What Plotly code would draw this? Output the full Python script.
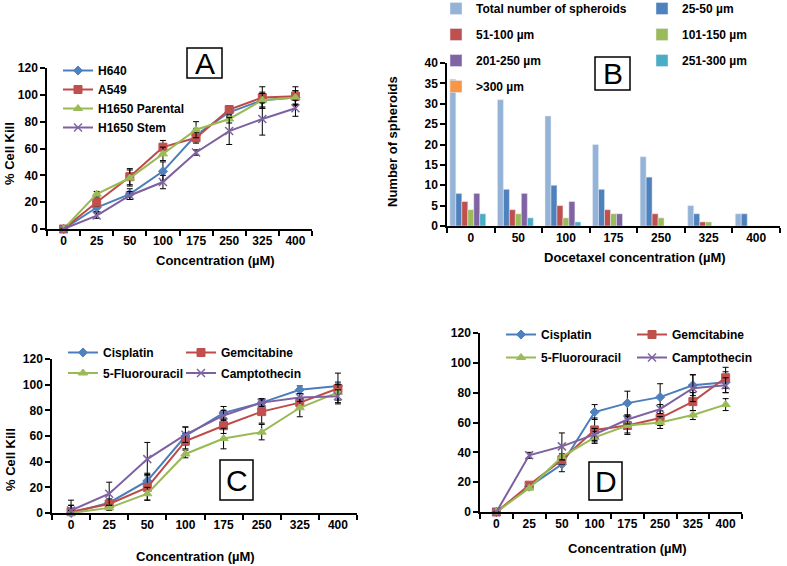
import plotly.graph_objects as go

W, H = 787, 566

# ---------------- data ----------------
conc = ["0", "25", "50", "100", "175", "250", "325", "400"]

# Panel A (% cell kill)
a_h640 = [0, 16, 26, 43, 70, 87, 96, 98]
a_a549 = [0, 20, 39, 61, 68, 89, 98, 99]
a_par = [0, 26, 38, 56, 74, 82, 96, 98]
a_stem = [0, 10, 25, 35, 57, 73, 82, 90]
a_h640_err = [0, 3, 4, 7, 5, 3, 6, 5]
a_a549_err = [0, 3, 6, 5, 4, 3, 8, 7]
a_par_err = [0, 2, 6, 5, 6, 3, 5, 5]
a_stem_err = [0, 2, 3, 5, 2, 10, 12, 6]

# Panel B (number of spheroids)
b_conc = ["0", "50", "100", "175", "250", "325", "400"]
b_total = [36, 31, 27, 20, 17, 5, 3]
b_25_50 = [8, 9, 10, 9, 12, 3, 3]
b_51_100 = [6, 4, 5, 4, 3, 1, 0]
b_101_150 = [4, 3, 2, 3, 2, 1, 0]
b_201_250 = [8, 8, 6, 3, 0, 0, 0]
b_251_300 = [3, 2, 1, 0, 0, 0, 0]
b_gt300 = [0, 0, 0, 0, 0, 0, 0]

# Panel C
c_cis = [0, 8, 25, 60, 78, 86, 96, 99]
c_gem = [1, 7, 20, 56, 68, 79, 86, 97]
c_fu = [0, 4, 15, 46, 58, 63, 82, 94]
c_cam = [2, 15, 42, 61, 76, 86, 90, 91]
c_cis_err = [6, 3, 6, 7, 5, 3, 3, 3]
c_gem_err = [5, 3, 10, 6, 6, 9, 4, 12]
c_fu_err = [2, 2, 5, 3, 8, 6, 7, 6]
c_cam_err = [8, 9, 13, 6, 4, 3, 3, 5]

# Panel D
d_cis = [0, 17, 32, 67, 73, 77, 85, 87]
d_gem = [0, 18, 35, 55, 58, 63, 74, 90]
d_fu = [0, 16, 37, 50, 58, 60, 65, 72]
d_cam = [0, 38, 44, 52, 62, 69, 83, 85]
d_cis_err = [0, 1, 5, 5, 8, 9, 7, 7]
d_gem_err = [0, 1, 3, 8, 6, 5, 6, 7]
d_fu_err = [0, 1, 2, 4, 5, 4, 3, 4]
d_cam_err = [0, 2, 9, 4, 3, 3, 9, 5]

# ---------------- styles ----------------
BLUE, BLUE_M = "#4A7EBB", "#4F81BD"
RED, RED_M = "#BE4B48", "#C0504D"
GREEN, GREEN_M = "#98B954", "#9BBB59"
PURPLE, PURPLE_M = "#7D60A0", "#8064A2"
FONT = "Liberation Sans, Arial, sans-serif"


def px(x):
    return x / W


def py(y):
    return 1 - y / H


def line_trace(x, y, err, name, color, mcolor, symbol, size, xa, ya, legend):
    lw = 1.5 if symbol == "x-thin" else 1
    mk = dict(symbol=symbol, size=size, color=mcolor, line=dict(color=mcolor, width=lw))
    return go.Scatter(
        x=x, y=y, name=name, mode="lines+markers",
        line=dict(color=color, width=2), marker=mk,
        error_y=dict(type="data", array=err, color="black", thickness=1, width=3),
        xaxis=xa, yaxis=ya, legend=legend, legendgroup=name + xa,
        cliponaxis=False,
    )


fig = go.Figure()

# Panel A
fig.add_trace(line_trace(conc, a_h640, a_h640_err, "H640", BLUE, BLUE_M, "diamond", 7, "x", "y", "legend"))
fig.add_trace(line_trace(conc, a_a549, a_a549_err, "A549", RED, RED_M, "square", 8, "x", "y", "legend"))
fig.add_trace(line_trace(conc, a_par, a_par_err, "H1650 Parental", GREEN, GREEN_M, "triangle-up", 8, "x", "y", "legend"))
fig.add_trace(line_trace(conc, a_stem, a_stem_err, "H1650 Stem", PURPLE, PURPLE_M, "x-thin", 8, "x", "y", "legend"))

# Panel B
bar_series = [
    ("Total number of spheroids", b_total, "#95B3D7", "legend2"),
    ("25-50 µm", b_25_50, "#4F81BD", "legend5"),
    ("51-100 µm", b_51_100, "#C0504D", "legend2"),
    ("101-150 µm", b_101_150, "#9BBB59", "legend5"),
    ("201-250 µm", b_201_250, "#8064A2", "legend2"),
    ("251-300 µm", b_251_300, "#4BACC6", "legend5"),
    (">300 µm", b_gt300, "#F79646", "legend2"),
]
for name, vals, col, lg in bar_series:
    fig.add_trace(go.Bar(x=b_conc, y=vals, name=name, marker=dict(color=col),
                         xaxis="x2", yaxis="y2", legend=lg, legendgroup=name))

# Panel C
fig.add_trace(line_trace(conc, c_cis, c_cis_err, "Cisplatin", BLUE, BLUE_M, "diamond", 7, "x3", "y3", "legend3"))
fig.add_trace(line_trace(conc, c_gem, c_gem_err, "Gemcitabine", RED, RED_M, "square", 8, "x3", "y3", "legend6"))
fig.add_trace(line_trace(conc, c_fu, c_fu_err, "5-Fluorouracil", GREEN, GREEN_M, "triangle-up", 8, "x3", "y3", "legend3"))
fig.add_trace(line_trace(conc, c_cam, c_cam_err, "Camptothecin", PURPLE, PURPLE_M, "x-thin", 8, "x3", "y3", "legend6"))

# Panel D
fig.add_trace(line_trace(conc, d_cis, d_cis_err, "Cisplatin", BLUE, BLUE_M, "diamond", 7, "x4", "y4", "legend4"))
fig.add_trace(line_trace(conc, d_gem, d_gem_err, "Gemcitabine", RED, RED_M, "square", 8, "x4", "y4", "legend7"))
fig.add_trace(line_trace(conc, d_fu, d_fu_err, "5-Fluorouracil", GREEN, GREEN_M, "triangle-up", 8, "x4", "y4", "legend4"))
fig.add_trace(line_trace(conc, d_cam, d_cam_err, "Camptothecin", PURPLE, PURPLE_M, "x-thin", 8, "x4", "y4", "legend7"))

tickfont = dict(family=FONT, size=12, color="black", weight="bold")


def xax(x0, x1, y_anchor, n):
    return dict(domain=[px(x0), px(x1)], anchor=y_anchor, type="category",
                range=[-0.5, n - 0.5], showline=True, linecolor="black", linewidth=1.5,
                ticks="outside", tickson="boundaries", ticklen=5, tickcolor="black",
                tickwidth=1.5, showgrid=False, zeroline=False, tickfont=tickfont,
                fixedrange=True)


def yax(y0, y1, x_anchor, top, dt):
    return dict(domain=[py(y0), py(y1)], anchor=x_anchor, range=[0, top], dtick=dt,
                showline=True, linecolor="black", linewidth=1.5, ticks="outside",
                ticklen=5, tickcolor="black", tickwidth=1.5, showgrid=False,
                zeroline=False, tickfont=tickfont, fixedrange=True)


def legend(x, y, gap):
    return dict(x=px(x), y=py(y), xanchor="left", yanchor="top", orientation="v",
                bgcolor="rgba(0,0,0,0)", borderwidth=0, traceorder="grouped",
                tracegroupgap=gap, itemclick=False, itemdoubleclick=False,
                font=dict(family=FONT, size=12, color="black", weight="bold"))


fig.update_layout(
    width=W, height=H, margin=dict(l=0, r=0, t=0, b=0, autoexpand=False),
    paper_bgcolor="white", plot_bgcolor="white",
    font=dict(family=FONT, size=12, color="black"),
    bargap=0.12, bargroupgap=0, barmode="group",
    xaxis=xax(47, 312, "y", 8), yaxis=yax(229, 68, "x", 120, 20),
    xaxis2=xax(447, 780, "y2", 7), yaxis2=yax(226, 63, "x2", 40, 5),
    xaxis3=xax(52, 357, "y3", 8), yaxis3=yax(513, 359, "x3", 120, 20),
    xaxis4=xax(480, 742, "y4", 8), yaxis4=yax(512, 333, "x4", 120, 20),
    legend=legend(58, 56, 0),
    legend2=legend(436, -6, 7),
    legend5=legend(642, -6, 7),
    legend3=legend(63, 338, 1.5),
    legend6=legend(181, 338, 1.5),
    legend4=legend(501, 320, 4),
    legend7=legend(632, 320, 4),
    showlegend=True,
)

ann_font = dict(family=FONT, size=13, color="black", weight="bold")
annotations = [
    dict(text="Concentration (µM)", x=px(215), y=py(261), font=ann_font),
    dict(text="Docetaxel concentration (µM)", x=px(635), y=py(257), font=ann_font),
    dict(text="Concentration (µM)", x=px(195), y=py(556), font=ann_font),
    dict(text="Concentration (µM)", x=px(627), y=py(548), font=ann_font),
    dict(text="% Cell Kill", x=px(10), y=py(154), textangle=-90, font=ann_font),
    dict(text="% Cell Kill", x=px(10), y=py(460), textangle=-90, font=ann_font),
    dict(text="Number of spheroids", x=px(392), y=py(142), textangle=-90, font=ann_font),
]
boxes = [("A", 187, 48, 222, 78), ("B", 595, 57, 630, 90), ("C", 220, 460, 253, 500), ("D", 589, 462, 622, 500)]
shapes = []
for letter, x0, y0, x1, y1 in boxes:
    shapes.append(dict(type="rect", xref="paper", yref="paper", x0=px(x0), x1=px(x1),
                       y0=py(y1), y1=py(y0), line=dict(color="black", width=1.5),
                       fillcolor="white", layer="above"))
    annotations.append(dict(text=letter, x=px((x0 + x1) / 2), y=py((y0 + y1) / 2),
                            font=dict(family=FONT, size=30, color="black")))
for a in annotations:
    a.update(xref="paper", yref="paper", showarrow=False, xanchor="center", yanchor="middle")
fig.update_layout(annotations=annotations, shapes=shapes)

fig.write_html("out.html", config={"displayModeBar": False},
               post_script="document.body.style.margin='0';document.body.style.overflow='hidden';")
